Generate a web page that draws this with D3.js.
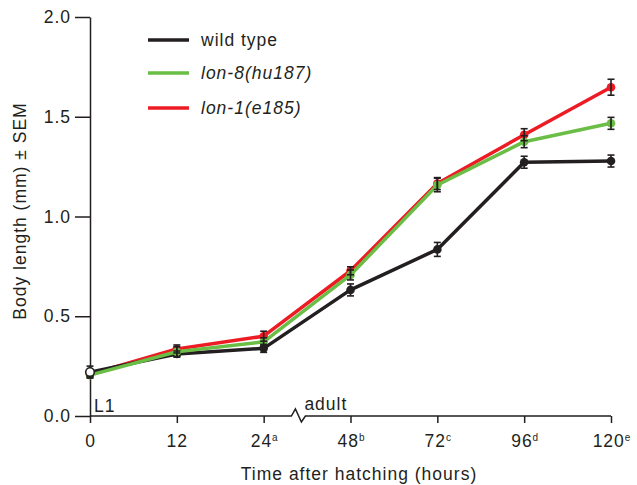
<!DOCTYPE html>
<html>
<head>
<meta charset="utf-8">
<script src="https://cdn.jsdelivr.net/npm/d3@7"></script>
<style>
  html, body { margin: 0; padding: 0; background: #fff; }
  svg { display: block; }
  text { font-family: "Liberation Sans", Arial, sans-serif; fill: #231f20; letter-spacing: 1px; }
</style>
</head>
<body>
<svg id="chart" width="637" height="485"></svg>
<script>
// ---- data ----
const hours = ["0", "12", "24", "48", "72", "96", "120"];
const hourSuper = ["", "", "a", "b", "c", "d", "e"];
const yTicks = [0, 0.5, 1.0, 1.5, 2.0];

const wildType    = [0.220, 0.311, 0.339, 0.632, 0.835, 1.272, 1.278];
const wildTypeErr = [0.030, 0.015, 0.020, 0.030, 0.035, 0.030, 0.030];
const lon8        = [0.205, 0.322, 0.372, 0.707, 1.158, 1.375, 1.467];
const lon8Err     = [0.010, 0.025, 0.020, 0.025, 0.034, 0.030, 0.030];
const lon1        = [0.210, 0.336, 0.400, 0.728, 1.165, 1.410, 1.648];
const lon1Err     = [0.010, 0.020, 0.025, 0.020, 0.030, 0.030, 0.040];

const seriesNames = ["wild type", "lon-8(hu187)", "lon-1(e185)"];

// ---- layout ----
const svg = d3.select("#chart");
const ink = "#231f20";
const colors = { "wild type": "#231f20", "lon-8(hu187)": "#6abd45", "lon-1(e185)": "#ed1c24" };

const x = d3.scalePoint().domain(hours).range([90, 611]).padding(0);
const y = d3.scaleLinear().domain([0, 2]).range([416, 17]);

// y axis
const yAxis = d3.axisLeft(y).tickValues(yTicks).tickFormat(d3.format(".1f"))
  .tickSize(15).tickSizeOuter(0).tickPadding(4);
const gy = svg.append("g").attr("transform", "translate(90,0)").call(yAxis);
gy.select(".domain").attr("stroke", ink).attr("stroke-width", 1.5);
gy.selectAll(".tick line").attr("stroke", ink).attr("stroke-width", 1.5);
gy.selectAll(".tick text").style("font-size", "17.5px").attr("fill", ink)
  .style("font-family", "'Liberation Sans', Arial, sans-serif");

// x axis (ticks only, custom domain with break)
const y0 = y(0);
const xAxis = d3.axisBottom(x).tickSize(7).tickSizeOuter(0).tickFormat("");
const gx = svg.append("g").attr("transform", `translate(0,${y0})`).call(xAxis);
gx.select(".domain").remove();
gx.selectAll(".tick line").attr("stroke", ink).attr("stroke-width", 1.5);

gx.selectAll(".tick").each(function(d, i) {
  const t = d3.select(this).append("text")
    .attr("y", 31).attr("text-anchor", "middle")
    .style("font-size", "17.5px");
  t.append("tspan").text(d);
  if (hourSuper[i]) {
    t.append("tspan").text(hourSuper[i]).style("font-size", "10px")
      .attr("dy", -6).style("letter-spacing", "0px");
  }
});

const bx = x("24") + 0.4 * (x("48") - x("24"));
const axisPath = d3.path();
axisPath.moveTo(x("0"), y0);
axisPath.lineTo(bx - 7, y0);
axisPath.lineTo(bx - 3, y0 - 7);
axisPath.lineTo(bx + 3, y0 + 6);
axisPath.lineTo(bx + 7, y0);
axisPath.lineTo(x("120"), y0);
svg.append("path").attr("d", axisPath.toString()).attr("fill", "none")
  .attr("stroke", ink).attr("stroke-width", 1.5).attr("stroke-linejoin", "miter");

svg.append("text").attr("x", x("0") + 4).attr("y", y0 - 4).style("font-size", "17.5px").text("L1");
svg.append("text").attr("x", bx + 6).attr("y", y0 - 6).style("font-size", "17.5px").text("adult");

// axis titles
svg.append("text").attr("x", 359).attr("y", 480).attr("text-anchor", "middle")
  .style("font-size", "17.5px").text("Time after hatching (hours)");
svg.append("text").attr("transform", "translate(26,211) rotate(-90)").attr("text-anchor", "middle")
  .style("font-size", "17.5px").text("Body length (mm) ± SEM");

// ---- series ----
const seriesData = {
  "wild type": { v: wildType, e: wildTypeErr },
  "lon-8(hu187)": { v: lon8, e: lon8Err },
  "lon-1(e185)": { v: lon1, e: lon1Err }
};
const line = d3.line().x((d, i) => x(hours[i])).y(d => y(d));
const drawOrder = ["lon-1(e185)", "wild type", "lon-8(hu187)"];

drawOrder.forEach(name => {
  const s = seriesData[name];
  const pts = s.v.map((v, i) => ({ v, i })).filter(p => !(name === "wild type" && p.i === 0));
  svg.append("path").datum(s.v).attr("d", line).attr("fill", "none")
    .attr("stroke", colors[name]).attr("stroke-width", 3.5).attr("stroke-linejoin", "round");
  svg.append("g").selectAll("circle").data(pts).join("circle")
    .attr("cx", p => x(hours[p.i])).attr("cy", p => y(p.v)).attr("r", 4.3)
    .attr("fill", colors[name]);
});

// error bars on top
drawOrder.forEach(name => {
  const s = seriesData[name];
  const g = svg.append("g").attr("stroke", ink).attr("stroke-width", 1.6);
  s.v.forEach((v, i) => {
    const cx = x(hours[i]);
    const top = y(v + s.e[i]), bot = y(v - s.e[i]);
    g.append("line").attr("x1", cx).attr("x2", cx).attr("y1", top).attr("y2", bot);
    g.append("line").attr("x1", cx - 3.5).attr("x2", cx + 3.5).attr("y1", top).attr("y2", top);
    g.append("line").attr("x1", cx - 3.5).attr("x2", cx + 3.5).attr("y1", bot).attr("y2", bot);
  });
});

// open L1 marker for wild type on top
svg.append("circle").attr("cx", x(hours[0])).attr("cy", y(wildType[0])).attr("r", 4.3)
  .attr("fill", "#fff").attr("stroke", ink).attr("stroke-width", 1.6);

// ---- legend ----
const legendY = [40, 73, 108];
seriesNames.forEach((name, i) => {
  svg.append("line").attr("x1", 148).attr("x2", 189).attr("y1", legendY[i]).attr("y2", legendY[i])
    .attr("stroke", colors[name]).attr("stroke-width", 3.5);
  svg.append("text").attr("x", 201).attr("y", legendY[i] + 6)
    .style("font-size", "17.5px").style("font-style", i === 0 ? "normal" : "italic").text(name);
});
</script>
</body>
</html>
